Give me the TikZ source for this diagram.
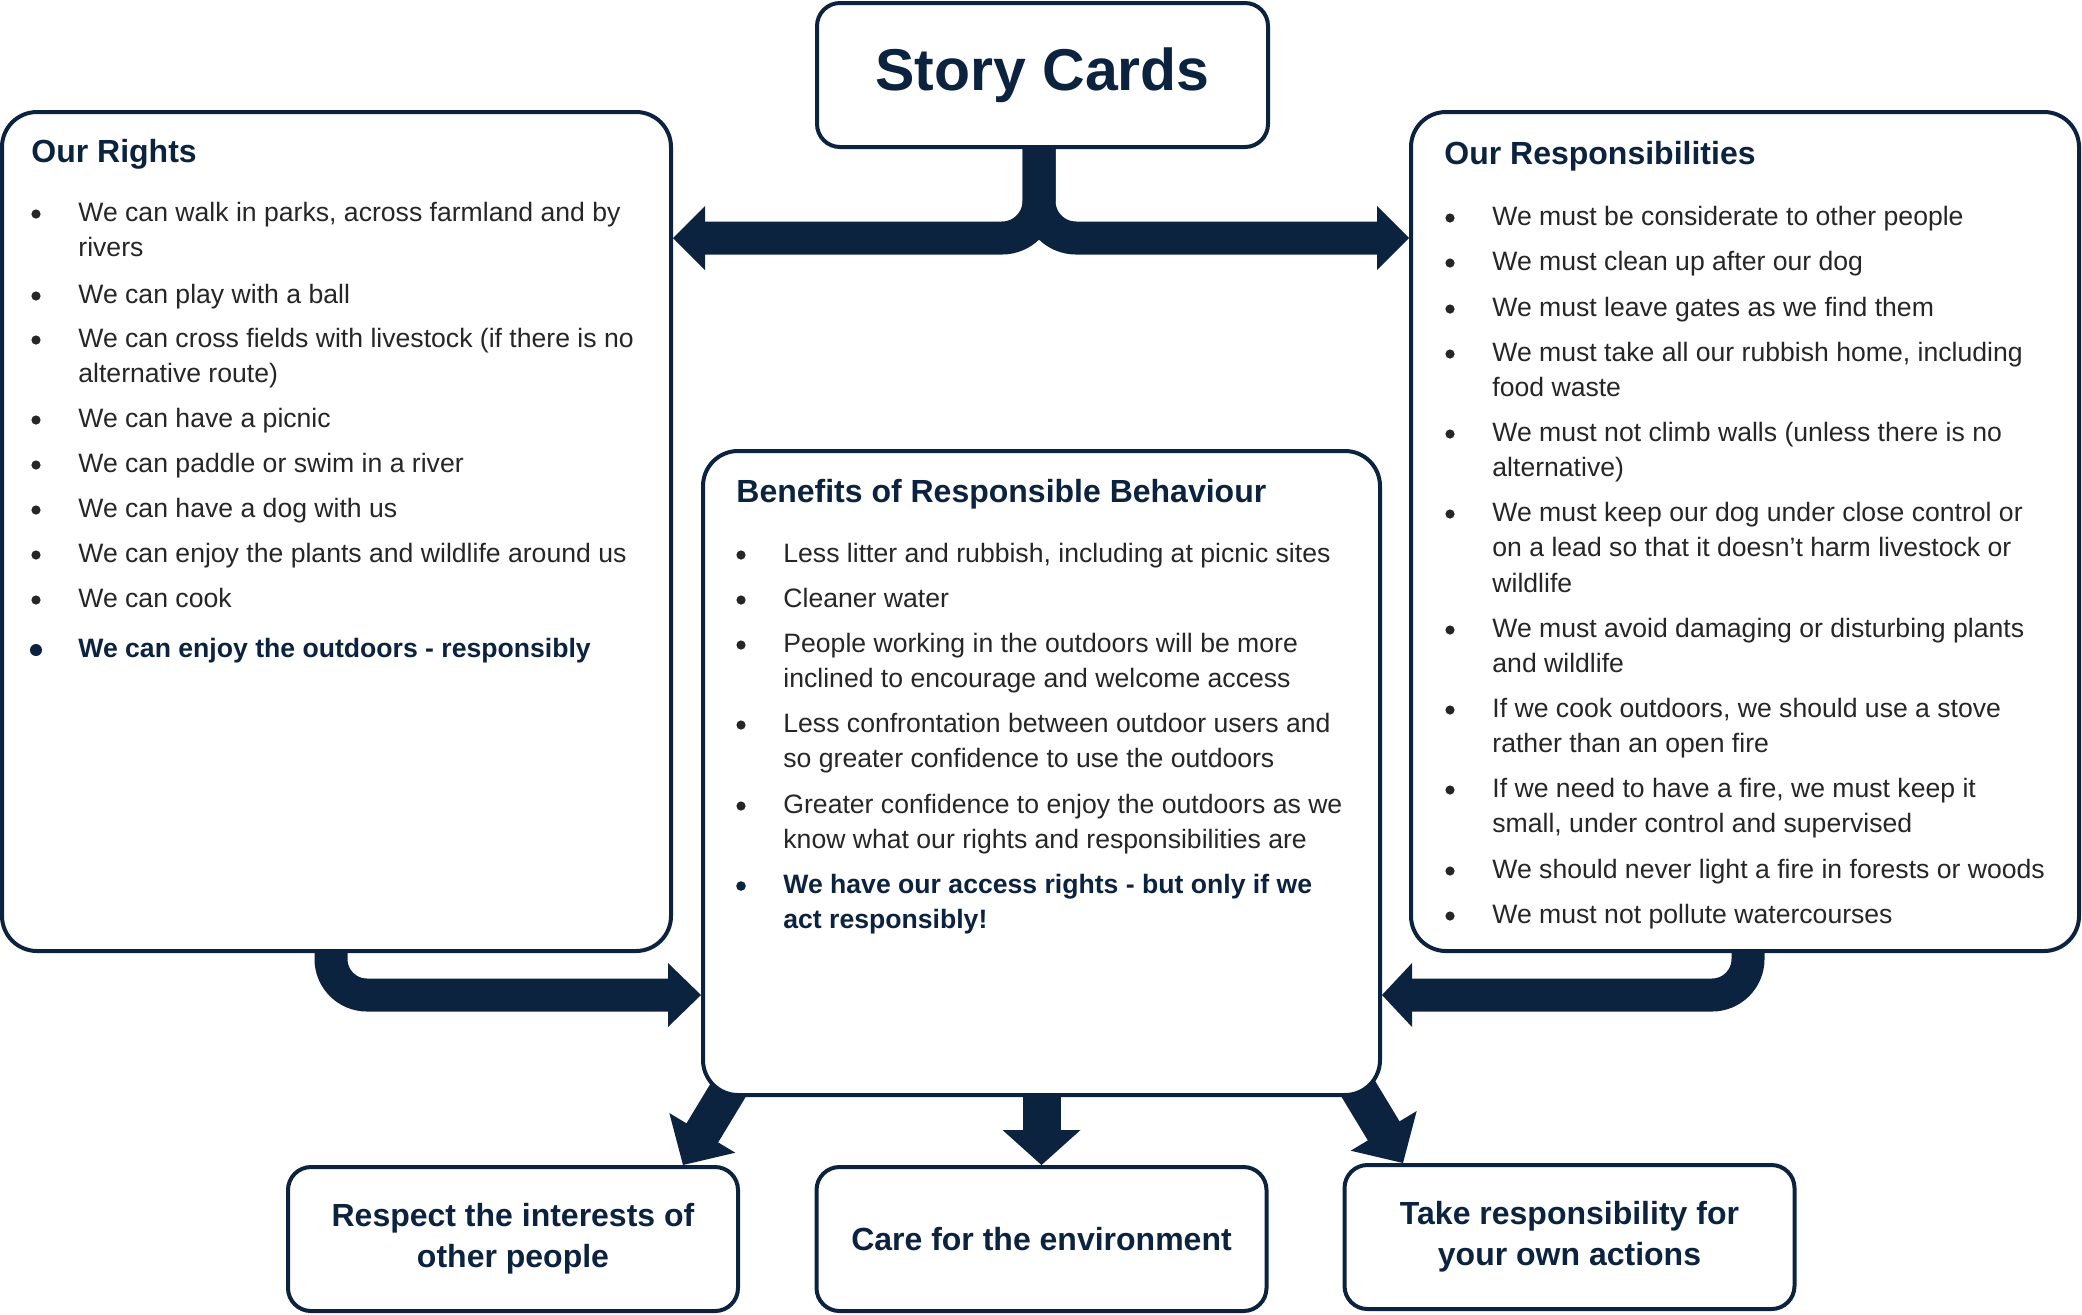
\documentclass[tikz,border=0pt]{standalone}
\usepackage{fontspec}
\setmainfont{Liberation Sans}
\pgfdeclarelayer{arrows}
\pgfsetlayers{arrows,main}

\definecolor{navy}{HTML}{0C2340}
\definecolor{ink}{HTML}{262626}

% one drawing unit = 0.5pt
\newlength\pxl
\setlength\pxl{0.5pt}
\newcommand\bodyfont{\fontsize{13.3pt}{17.75pt}\selectfont}
\newcommand\headfont{\fontsize{16pt}{19pt}\selectfont\bfseries}
\newcommand\lines[1]{\parbox[t]{340pt}{\raggedright #1}}
% bullet dot left of an item node: node, style, radius
\newcommand\bulletat[3]{\fill[#2] ([shift={(-42,-7)}]#1.base west) circle[radius=#3];}
% filled arrow head: tip, direction angle, length, half width
\newcommand\headat[4]{\fill[navy, shift={(#1)}, rotate=#2] (0,0) -- (-#3,#4) -- (-#3,-#4) -- cycle;}

\tikzset{
  card/.style={draw=navy, line width=2pt, fill=white, rounded corners=17.5pt, inner sep=0pt},
  tag/.style={draw=navy, line width=2pt, fill=white, rounded corners=11.5pt, inner sep=0pt,
    align=center, text=navy, font=\fontsize{16pt}{20.5pt}\selectfont\bfseries,
    minimum width=450\pxl, minimum height=144\pxl},
  cardhead/.style={anchor=base west, inner sep=0pt, text=navy, font=\headfont},
  itm/.style={anchor=base west, inner sep=0pt, text=ink, font=\bodyfont},
  keyitm/.style={itm, text=navy, font=\bodyfont\bfseries},
  dot/.style={fill=ink},
  keydot/.style={fill=navy},
  shaft/.style={draw=navy, line width=16.5pt},
}

\begin{document}
\begin{tikzpicture}[x=0.5pt, y=-0.5pt]
\useasboundingbox (0,0) rectangle (2082,1314);

% ---------- boxes ----------
\node[tag, minimum width=451\pxl, minimum height=144\pxl,
      font=\fontsize{29.5pt}{34pt}\selectfont\bfseries] (story) at (1042.5,75) {Story Cards};
\node[card, minimum width=669\pxl, minimum height=839\pxl] (rights) at (336.5,531.5) {};
\node[card, minimum width=668\pxl, minimum height=839\pxl] (resp) at (1745,531.5) {};
\node[card, minimum width=677\pxl, minimum height=644\pxl] (benefits) at (1041.5,773) {};
\node[tag] (respect) at (513,1239) {Respect the interests of\\other people};
\node[tag] (care) at (1041.5,1239) {Care for the environment};
\node[tag] (take) at (1569.5,1237) {Take responsibility for\\your own actions};

% ---------- Our Rights ----------
\node[cardhead] (rh) at (31,162) {Our Rights};
\node[itm] (r1) at (78,221) {\lines{We can walk in parks, across farmland and by\\rivers}};
\node[itm] (r2) at (78,303) {We can play with a ball};
\node[itm] (r3) at (78,347) {\lines{We can cross fields with livestock (if there is no\\alternative route)}};
\node[itm] (r4) at (78,427) {We can have a picnic};
\node[itm] (r5) at (78,472) {We can paddle or swim in a river};
\node[itm] (r6) at (78,517) {We can have a dog with us};
\node[itm] (r7) at (78,562) {We can enjoy the plants and wildlife around us};
\node[itm] (r8) at (78,607) {We can cook};
\node[keyitm] (r9) at (78,657) {We can enjoy the outdoors - responsibly};
\foreach \n in {r1,r2,r3,r4,r5,r6,r7,r8} {\bulletat{\n}{dot}{2.3pt}}
\bulletat{r9}{keydot}{3pt}

% ---------- Our Responsibilities ----------
\node[cardhead] (ph) at (1444,164) {Our Responsibilities};
\node[itm] (p1) at (1492,225) {We must be considerate to other people};
\node[itm] (p2) at (1492,270) {We must clean up after our dog};
\node[itm] (p3) at (1492,316) {We must leave gates as we find them};
\node[itm] (p4) at (1492,361) {\lines{We must take all our rubbish home, including\\food waste}};
\node[itm] (p5) at (1492,441) {\lines{We must not climb walls (unless there is no\\alternative)}};
\node[itm] (p6) at (1492,521) {\lines{We must keep our dog under close control or\\on a lead so that it doesn’t harm livestock or\\wildlife}};
\node[itm] (p7) at (1492,637) {\lines{We must avoid damaging or disturbing plants\\and wildlife}};
\node[itm] (p8) at (1492,717) {\lines{If we cook outdoors, we should use a stove\\rather than an open fire}};
\node[itm] (p9) at (1492,797) {\lines{If we need to have a fire, we must keep it\\small, under control and supervised}};
\node[itm] (p10) at (1492,878) {We should never light a fire in forests or woods};
\node[itm] (p11) at (1492,923) {We must not pollute watercourses};
\foreach \n in {p1,p2,p3,p4,p5,p6,p7,p8,p9,p10,p11} {\bulletat{\n}{dot}{2.3pt}}

% ---------- Benefits ----------
\node[cardhead] (bh) at (736,502) {Benefits of Responsible Behaviour};
\node[itm] (b1) at (783,562) {Less litter and rubbish, including at picnic sites};
\node[itm] (b2) at (783,607) {Cleaner water};
\node[itm] (b3) at (783,652) {\lines{People working in the outdoors will be more\\inclined to encourage and welcome access}};
\node[itm] (b4) at (783,732) {\lines{Less confrontation between outdoor users and\\so greater confidence to use the outdoors}};
\node[itm] (b5) at (783,813) {\lines{Greater confidence to enjoy the outdoors as we\\know what our rights and responsibilities are}};
\node[keyitm] (b6) at (783,893) {\lines{We have our access rights - but only if we\\act responsibly!}};
\foreach \n in {b1,b2,b3,b4,b5} {\bulletat{\n}{dot}{2.3pt}}
\bulletat{b6}{keydot}{2.4pt}

% ---------- connectors ----------
\coordinate (bar) at (1039,238);
\coordinate (tRL) at (rights.east |- bar);
\coordinate (tRR) at (resp.west |- bar);
\coordinate (lrow) at (331,995);
\coordinate (rrow) at (1748,995);
\coordinate (tBL) at (benefits.west |- lrow);
\coordinate (tBR) at (benefits.east |- rrow);
\coordinate (sL) at (750,1054);
\coordinate (bL) at (702.3,1132.9);
\coordinate (tipL) at (683,1165);
\coordinate (sR) at (1336,1052);
\coordinate (bR) at (1383.7,1130.9);
\coordinate (tipR) at (1403,1163);

\begin{pgfonlayer}{arrows}
  % Story Cards splits to both sides
  \draw[shaft, rounded corners=18.5pt] (story.south -| bar) |- ([xshift=15pt]tRL);
  \headat{tRL}{180}{32}{32}
  \draw[shaft, rounded corners=18.5pt] (story.south -| bar) |- ([xshift=-15pt]tRR);
  \headat{tRR}{0}{32}{32}
  % rights and responsibilities lead into the benefits
  \draw[shaft, rounded corners=18pt] (rights.south -| lrow) |- ([xshift=-15.5pt]tBL);
  \headat{tBL}{0}{33}{32}
  \draw[shaft, rounded corners=18pt] (resp.south -| rrow) |- ([xshift=14pt]tBR);
  \headat{tBR}{180}{30}{32}
  % benefits lead to the three outcomes
  \draw[shaft, line width=19pt] (benefits.south) -- ([yshift=16.5pt]care.north);
  \headat{care.north}{270}{35}{39}
  \draw[shaft, line width=18.5pt, shorten >=-1pt] (sL) -- (bL);
  \headat{tipL}{239}{37.5}{38.5}
  \draw[shaft, line width=18.5pt, shorten >=-1pt] (sR) -- (bR);
  \headat{tipR}{301}{37.5}{38.5}
\end{pgfonlayer}
\end{tikzpicture}
\end{document}
